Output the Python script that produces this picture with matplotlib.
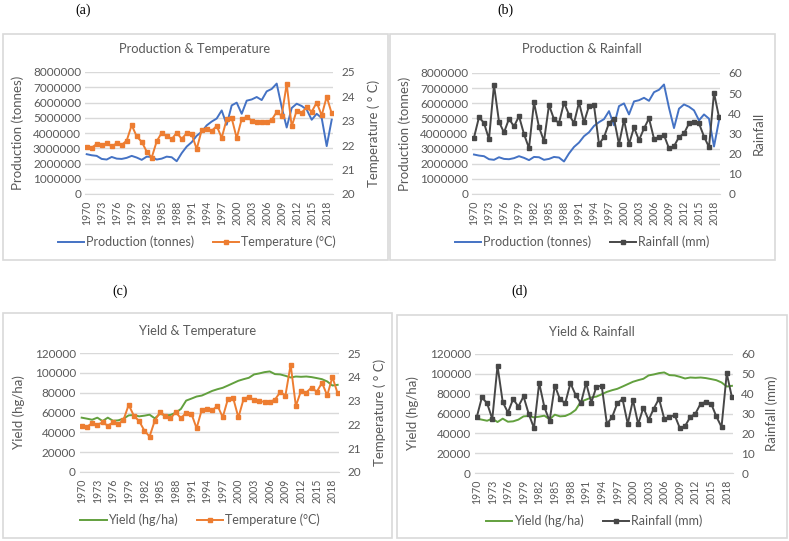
import matplotlib.pyplot as plt
import matplotlib.patches as patches
import numpy as np

years = np.arange(1970, 2020)
production = [2.61, 2.54, 2.50, 2.30, 2.26, 2.43, 2.32, 2.30, 2.37, 2.50,
              2.39, 2.24, 2.45, 2.43, 2.26, 2.32, 2.45, 2.41, 2.15, 2.68,
              3.11, 3.40, 3.82, 4.08, 4.50, 4.75, 4.95, 5.48, 4.54, 5.81,
              5.99, 5.26, 6.12, 6.20, 6.36, 6.16, 6.73, 6.89, 7.24, 5.70,
              4.36, 5.64, 5.92, 5.77, 5.53, 4.87, 5.26, 4.98, 3.14, 4.87]
production = [v * 1e6 for v in production]
temperature = [21.92, 21.90, 22.05, 21.99, 22.08, 21.95, 22.08, 22.01, 22.19, 22.82,
               22.36, 22.14, 21.74, 21.49, 22.16, 22.51, 22.36, 22.25, 22.51, 22.26,
               22.49, 22.45, 21.84, 22.62, 22.65, 22.59, 22.79, 22.30, 23.07, 23.11,
               22.29, 23.07, 23.16, 23.01, 22.97, 22.95, 22.95, 23.04, 23.36, 23.21,
               24.51, 22.77, 23.42, 23.34, 23.55, 23.37, 23.75, 23.22, 23.99, 23.30]
rainfall = [28.0, 38.1, 35.2, 27.2, 54.1, 35.8, 30.5, 37.3, 33.5, 38.6,
            29.7, 22.7, 45.4, 33.2, 26.2, 44.1, 37.1, 35.2, 45.3, 39.3,
            35.2, 45.4, 35.5, 43.6, 43.9, 24.7, 28.2, 35.2, 37.3, 24.7,
            36.8, 24.7, 33.0, 26.7, 32.5, 37.5, 27.4, 28.2, 29.2, 22.6,
            23.7, 28.2, 30.0, 35.0, 35.8, 35.0, 28.5, 23.2, 50.2, 38.1]
crop_yield = [54.8, 53.8, 52.7, 54.8, 51.4, 54.8, 51.7, 52.1, 53.8, 57.1,
              57.5, 56.1, 56.8, 57.8, 54.1, 58.8, 57.1, 57.5, 59.8, 63.6,
              72.0, 74.0, 76.1, 77.1, 79.4, 81.8, 83.5, 84.9, 87.2, 89.6,
              92.0, 93.6, 95.0, 98.4, 99.4, 100.7, 101.4, 98.7, 98.4, 97.0,
              95.3, 96.3, 96.0, 96.3, 95.7, 94.7, 93.6, 91.3, 87.2, 87.9]
crop_yield = [v * 1000 for v in crop_yield]

W, H = 789, 541
GRAY = '#595959'
GRID = '#d9d9d9'
BLUE = '#4472C4'
ORANGE = '#ED7D31'
GREEN = '#62A03E'
DARK = '#474747'
FONT = 'Lato'

plt.rcParams['font.family'] = [FONT, 'DejaVu Sans']

fig = plt.figure(figsize=(W / 100, H / 100), dpi=100)


def fx(x):
    return x / W


def fy(y):
    return 1 - y / H


def panel(frame, box, left_vals, left_style, right_vals, right_style,
          left_ticks, right_ticks, title, title_xy, ylab_left, ylab_right,
          lab_x, legend_xy, tag, tag_xy):
    # frame around the chart
    fl, ft, fr, fb = frame
    fig.add_artist(patches.Rectangle((fx(fl), fy(fb)), fx(fr - fl), (fb - ft) / H,
                                     transform=fig.transFigure, fill=False,
                                     edgecolor=GRID, lw=1.2))
    l, t, r, b = box
    ax = fig.add_axes([fx(l), fy(b), fx(r - l), (b - t) / H])
    x = np.arange(len(years))
    h1, = ax.plot(x, left_vals, color=left_style[0], lw=1.4, label=left_style[1])
    ax.set_ylim(left_ticks[0], left_ticks[-1])
    ax.set_yticks(left_ticks)
    ax.set_yticklabels([str(int(v)) for v in left_ticks])
    ax.set_xlim(-0.3, 49.2)
    ax.set_xticks(x[::3])
    ax.set_xticklabels([str(y) for y in years[::3]], rotation=90)
    ax.grid(axis='y', color=GRID, lw=1)
    ax.set_axisbelow(True)
    for s in ['top', 'left', 'right']:
        ax.spines[s].set_visible(False)
    ax.spines['bottom'].set_color(GRID)
    ax.tick_params(length=0, colors=GRAY, labelsize=8.5, pad=3)
    ax.tick_params(axis='x', labelsize=7.6, pad=5)

    ax2 = ax.twinx()
    h2, = ax2.plot(x, right_vals, color=right_style[0], lw=1.4, marker='s',
                   ms=3.2, label=right_style[1])
    ax2.set_ylim(right_ticks[0], right_ticks[-1])
    ax2.set_yticks(right_ticks)
    ax2.set_yticklabels([str(int(v)) for v in right_ticks])
    for s in ax2.spines.values():
        s.set_visible(False)
    ax2.tick_params(length=0, colors=GRAY, labelsize=8.5, pad=6)

    ax.set_ylabel(ylab_left, color=GRAY, fontsize=9.5)
    ax.yaxis.set_label_coords(fx(lab_x[0]), fy((t + b) / 2), transform=fig.transFigure)
    ax2.set_ylabel(ylab_right, color=GRAY, fontsize=9.5)
    ax2.yaxis.set_label_coords(fx(lab_x[1]), fy((t + b) / 2), transform=fig.transFigure)

    fig.text(fx(title_xy[0]), fy(title_xy[1]), title, ha='center', va='center',
             color=GRAY, fontsize=9.3)
    fig.legend([h1, h2], [left_style[1], right_style[1]], loc='center',
               bbox_to_anchor=(fx(legend_xy[0]), fy(legend_xy[1])), ncol=2,
               frameon=False, fontsize=9, labelcolor=GRAY, handlelength=2.1,
               columnspacing=1.5, handletextpad=0.15)
    fig.text(fx(tag_xy[0]), fy(tag_xy[1]), tag, ha='center', va='center',
             fontsize=10, family='Liberation Serif', color='black')


prod_ticks = list(range(0, 8000001, 1000000))
yield_ticks = list(range(0, 120001, 20000))
temp_ticks = [20, 21, 22, 23, 24, 25]
rain_ticks = [0, 10, 20, 30, 40, 50, 60]

panel((3, 34, 388, 260), (85.2, 72, 332.7, 194),
      production, (BLUE, 'Production (tonnes)'),
      temperature, (ORANGE, 'Temperature (°C)'),
      prod_ticks, temp_ticks, 'Production & Temperature', (195, 49),
      'Production (tonnes)', 'Temperature ( ° C)', (24, 367), (197, 242),
      '(a)', (83, 10))

panel((390, 34, 775, 260), (472.5, 73, 720, 194),
      production, (BLUE, 'Production (tonnes)'),
      rainfall, (DARK, 'Rainfall (mm)'),
      prod_ticks, rain_ticks, 'Production & Rainfall', (582, 49),
      'Production (tonnes)', 'Rainfall', (411, 753), (582, 242),
      '(b)', (505, 10))

panel((3, 313, 392, 538), (80.1, 353, 338.7, 472),
      crop_yield, (GREEN, 'Yield (hg/ha)'),
      temperature, (ORANGE, 'Temperature (°C)'),
      yield_ticks, temp_ticks, 'Yield & Temperature', (198, 331),
      'Yield (hg/ha)', 'Temperature ( ° C)', (25, 373), (200, 520),
      '(c)', (120, 291))

panel((397, 315, 787, 538), (475.1, 354, 733, 473),
      crop_yield, (GREEN, 'Yield (hg/ha)'),
      rainfall, (DARK, 'Rainfall (mm)'),
      yield_ticks, rain_ticks, 'Yield & Rainfall', (592, 332),
      'Yield (hg/ha)', 'Rainfall (mm)', (419, 765), (594, 521),
      '(d)', (519, 291))

fig.savefig('out.png', dpi=100)
